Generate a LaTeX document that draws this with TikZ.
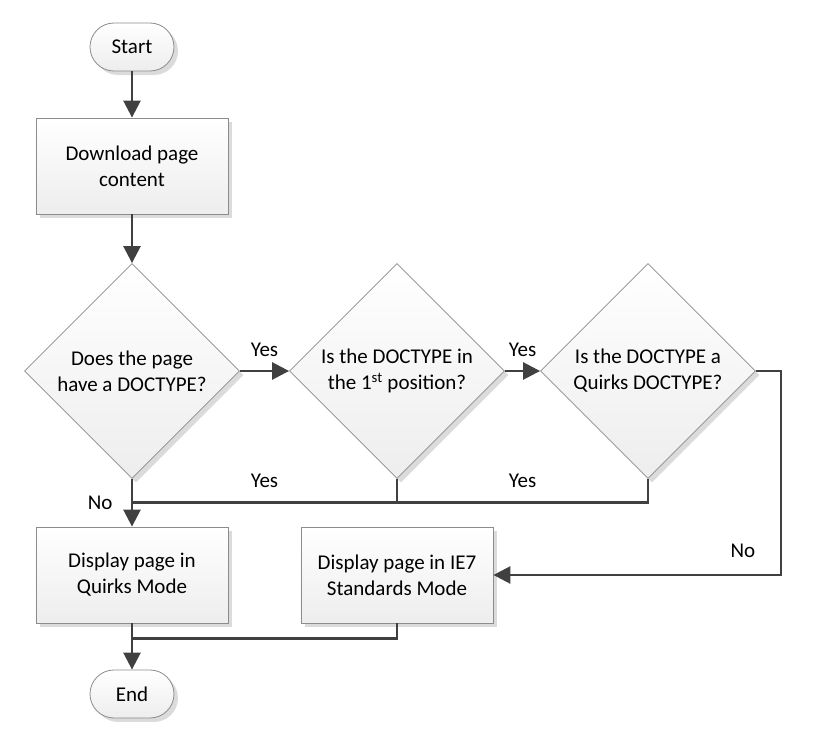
\documentclass[tikz,border=0pt]{standalone}
\usepackage{fontspec}
\setmainfont{Carlito}
\usetikzlibrary{matrix,shapes.geometric,shadows,arrows.meta,calc}

\tikzset{
  box/.style={draw=black!45, line width=0.8pt, top color=white, bottom color=black!7,
              drop shadow={shadow xshift=4pt, shadow yshift=-4pt, fill=black!14, opacity=1},
              align=center, anchor=center, inner sep=0pt, font=\fontsize{21}{26}\selectfont},
  term/.style={box, rounded corners=24pt, minimum width=84pt, minimum height=48pt},
  proc/.style={box, minimum width=192pt, minimum height=96pt},
  decision/.style={box, diamond, minimum width=215pt, minimum height=215pt},
  link/.style={draw=black!75, line width=2.6pt},
  flow/.style={link, -{Triangle[length=17pt,width=17pt]}},
}

\begin{document}
\begin{tikzpicture}
  \matrix [column sep={251pt,between origins},
           row sep={119pt,between origins}]
  {
    \node[term] (start) {Start}; &[14pt] & \\
    \node[proc] (dl) {Download page\\content}; &[14pt] & \\[86pt]
    \node[decision] (q1) {Does the page\\have a DOCTYPE?}; &[14pt]
    \node[decision] (q2) {Is the DOCTYPE in\\the 1\textsuperscript{st} position?}; &
    \node[decision] (q3) {Is the DOCTYPE a\\Quirks DOCTYPE?}; \\[85pt]
    \node[proc] (quirks) {Display page in\\Quirks Mode}; &[14pt]
    \node[proc] (ie7) {Display page in IE7\\Standards Mode}; & \\
    \node[term] (end) {End}; &[14pt] & \\
  };
  \useasboundingbox ($(start.center)+(-132pt,47pt)$) rectangle +(817pt,-751pt);

  \coordinate (jn)   at ($(q1.south)!0.5!(quirks.north)$);
  \coordinate (jn2)  at (q2.south |- jn);
  \coordinate (jn3)  at ($(quirks.south)+(0,-15pt)$);
  \coordinate (bend) at ($(q3.east)+(25pt,0)$);

  \draw[flow] (start) -- (dl);
  \draw[flow] (dl) -- (q1);
  \begin{scope}[every node/.style={font=\fontsize{21}{26}\selectfont}]
    \draw[flow] (q1.east) -- node[midway,above=10pt] {Yes} (q2.west);
    \draw[flow] (q2.east) -- node[midway,above=10pt] {Yes} (q3.west);
    \draw[link] (q2.south) |- node[pos=0.75,above=10pt] {Yes} (jn);
    \draw[link] (q3.south) |- node[pos=0.75,above=10pt] {Yes} (jn2);
    \draw[flow] (q1.south) -- (quirks.north);
    \node[left=16pt] (no1) at (jn) {No};
    \draw[flow] (q3.east) -- (bend) |- node[pos=0.44,left=21pt] {No} (ie7.east);
  \end{scope}
  \draw[link] (ie7.south) |- (jn3);
  \draw[flow] (quirks.south) -- (end.north);
\end{tikzpicture}
\end{document}
